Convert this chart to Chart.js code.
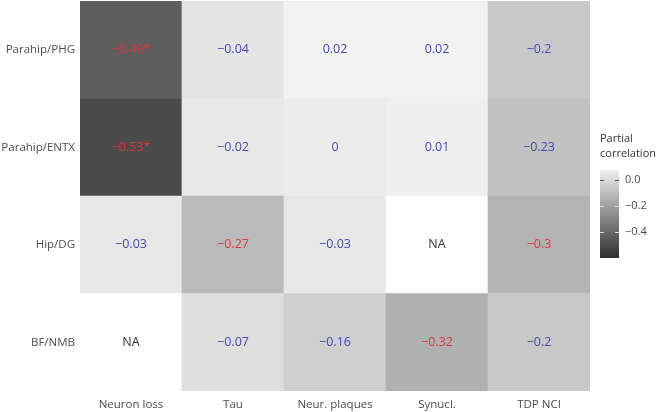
<!DOCTYPE html>
<html>
<head>
<meta charset="utf-8">
<script src="https://cdn.jsdelivr.net/npm/chart.js@4/dist/chart.umd.min.js"></script>
<style>
  html, body { margin: 0; padding: 0; background: #ffffff; }
  #wrap { width: 660px; height: 412px; }
</style>
</head>
<body>
<div id="wrap"><canvas id="c" width="660" height="412"></canvas></div>
<script>
// ---- data ----
const rows = ['Parahip/PHG', 'Parahip/ENTX', 'Hip/DG', 'BF/NMB'];
const cols = ['Neuron loss', 'Tau', 'Neur. plaques', 'Synucl.', 'TDP NCI'];
const valPHG  = [-0.49, -0.04, 0.02, 0.02, -0.2];
const valENTX = [-0.53, -0.02, 0, 0.01, -0.23];
const valDG   = [-0.03, -0.27, -0.03, null, -0.3];
const valNMB  = [null, -0.07, -0.16, -0.32, -0.2];
// significance: 2 = starred (red with *), 1 = red, 0 = blue
const sigPHG  = [2, 0, 0, 0, 0];
const sigENTX = [2, 0, 0, 0, 0];
const sigDG   = [0, 1, 0, 0, 1];
const sigNMB  = [0, 0, 0, 1, 0];
const legendTicks = [0, -0.2, -0.4];

const values = [valPHG, valENTX, valDG, valNMB];
const sigs = [sigPHG, sigENTX, sigDG, sigNMB];

// ---- colour scale (fill) ----
const fillStops = [[-0.53, 74], [-0.49, 94], [-0.32, 176], [-0.2, 200], [0, 236], [0.02, 242]];
function fillFor(v) {
  if (v === null || v === undefined) return '#ffffff';
  let g;
  if (v <= fillStops[0][0]) g = fillStops[0][1];
  else if (v >= fillStops[fillStops.length - 1][0]) g = fillStops[fillStops.length - 1][1];
  else {
    for (let i = 0; i < fillStops.length - 1; i++) {
      const a = fillStops[i], b = fillStops[i + 1];
      if (v >= a[0] && v <= b[0]) { g = a[1] + (b[1] - a[1]) * (v - a[0]) / (b[0] - a[0]); break; }
    }
  }
  g = Math.round(g);
  return 'rgb(' + g + ',' + g + ',' + g + ')';
}
function fmt(v) {
  if (v === null) return 'NA';
  let s = String(Math.abs(v));
  return (v < 0 ? '\u2212' : '') + s;
}

const FONT = '"Open Sans", "Noto Sans", sans-serif';

// datasets stacked from bottom row upward
const datasets = [];
for (let r = rows.length - 1; r >= 0; r--) {
  datasets.push({
    label: rows[r],
    data: cols.map(() => 1),
    backgroundColor: values[r].map(fillFor),
    borderWidth: 0,
    categoryPercentage: 1.0,
    barPercentage: 1.0,
    stack: 's'
  });
}

const cellText = {
  id: 'cellText',
  afterDatasetsDraw(chart) {
    const ctx = chart.ctx, xs = chart.scales.x, ys = chart.scales.y;
    ctx.save();
    ctx.font = '12.5px ' + FONT;
    ctx.textAlign = 'center';
    ctx.textBaseline = 'middle';
    for (let r = 0; r < rows.length; r++) {
      const yv = rows.length - 1 - r + 0.5;
      for (let c = 0; c < cols.length; c++) {
        const v = values[r][c];
        const s = sigs[r][c];
        let txt = fmt(v);
        if (s === 2) txt += '*';
        ctx.fillStyle = v === null ? '#333333' : (s > 0 ? '#d9383d' : '#4a48ad');
        ctx.fillText(txt, xs.getPixelForValue(c), ys.getPixelForValue(yv));
      }
    }
    ctx.restore();
  }
};

const colourLegend = {
  id: 'colourLegend',
  afterDraw(chart) {
    const ctx = chart.ctx, area = chart.chartArea;
    const bx = area.right + 10, bw = 19, top = 170, bottom = 258;
    const zeroY = 180, perUnit = 130;
    ctx.save();
    ctx.fillStyle = '#333333';
    ctx.font = '11px ' + FONT;
    ctx.textAlign = 'left';
    ctx.textBaseline = 'middle';
    ctx.fillText('Partial', bx, 139);
    ctx.fillText('correlation', bx, 154);
    const grad = ctx.createLinearGradient(0, top, 0, bottom);
    grad.addColorStop(0, '#efefef');
    grad.addColorStop(1, '#2f2f2f');
    ctx.fillStyle = grad;
    ctx.fillRect(bx, top, bw, bottom - top);
    legendTicks.forEach((t, i) => {
      const y = zeroY + (0 - t) * perUnit;
      ctx.strokeStyle = i === 0 ? '#555555' : '#dddddd';
      ctx.lineWidth = 1;
      ctx.beginPath();
      ctx.moveTo(bx, y + 0.5); ctx.lineTo(bx + 4, y + 0.5);
      ctx.moveTo(bx + bw - 4, y + 0.5); ctx.lineTo(bx + bw, y + 0.5);
      ctx.stroke();
      ctx.fillStyle = '#4d4d4d';
      ctx.font = '11px ' + FONT;
      const lab = (t < 0 ? '\u2212' : '') + Math.abs(t).toFixed(1);
      ctx.fillText(lab, bx + bw + 6, y);
    });
    ctx.restore();
  }
};

new Chart(document.getElementById('c'), {
  type: 'bar',
  data: { labels: cols, datasets },
  options: {
    responsive: false,
    animation: false,
    layout: { padding: { top: 1, right: 70, left: 0, bottom: 0 } },
    plugins: { legend: { display: false }, tooltip: { enabled: false } },
    scales: {
      x: {
        type: 'category',
        stacked: true,
        grid: { display: false, drawTicks: false },
        border: { display: false },
        ticks: { color: '#4d4d4d', font: { family: FONT, size: 11.5 }, padding: 7, maxRotation: 0 },
        afterFit(s) { s.height = 21; s.paddingLeft = 0; s.paddingRight = 0; }
      },
      y: {
        type: 'linear',
        stacked: true,
        min: 0, max: 4,
        grid: { display: false, drawTicks: false },
        border: { display: false },
        afterBuildTicks(s) { s.ticks = [0.5, 1.5, 2.5, 3.5].map(v => ({ value: v })); },
        ticks: {
          color: '#4d4d4d', font: { family: FONT, size: 11.5 }, padding: 5,
          callback: (v) => rows[rows.length - 1 - Math.floor(v)]
        },
        afterFit(s) { s.width = 80; s.paddingTop = 0; s.paddingBottom = 0; }
      }
    }
  },
  plugins: [cellText, colourLegend]
});
</script>
</body>
</html>
